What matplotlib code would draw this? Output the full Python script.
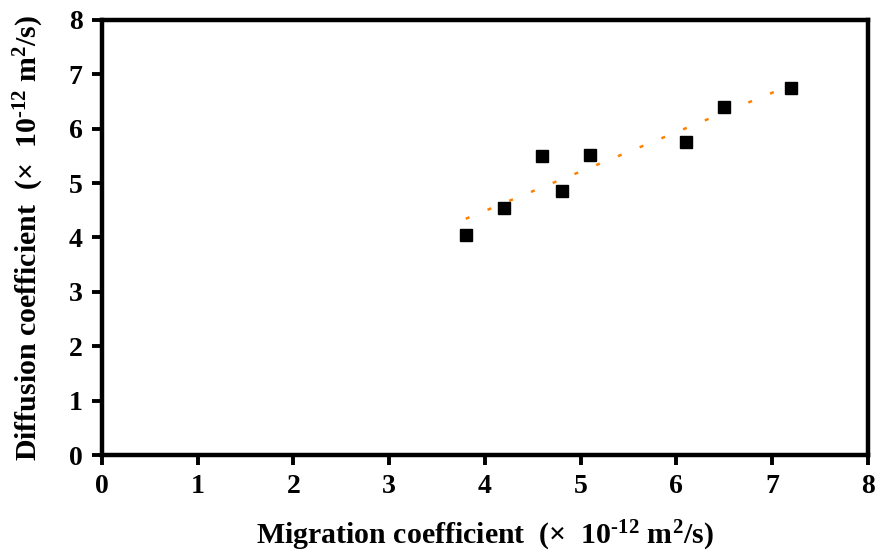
import numpy as np
import matplotlib
matplotlib.use("Agg")
import matplotlib.pyplot as plt

plt.rcParams['font.family'] = ['Liberation Serif', 'DejaVu Serif']
plt.rcParams['font.weight'] = 'bold'
plt.rcParams['mathtext.default'] = 'regular'

migration = [3.8, 4.2, 4.6, 4.8, 5.1, 6.1, 6.5, 7.2]
diffusion = [4.05, 4.55, 5.5, 4.85, 5.52, 5.75, 6.4, 6.75]
xticks = [0, 1, 2, 3, 4, 5, 6, 7, 8]
yticks = [0, 1, 2, 3, 4, 5, 6, 7, 8]

fig = plt.figure(figsize=(8.82, 5.54), dpi=100)
ax = fig.add_axes([0.1156, 0.1787, 0.8684, 0.7853])

slope, intercept = np.polyfit(migration, diffusion, 1)
xs = np.array([min(migration), max(migration)])
ax.plot(xs, slope * xs + intercept, color='#FF8000', linewidth=1.8,
        linestyle=(0, (1.6, 7.8)), zorder=2)
ax.plot(migration, diffusion, linestyle='none', marker='s', markersize=8.5,
        color='black', zorder=3)

ax.set_xlim(0, 8)
ax.set_ylim(0, 8)
ax.set_xticks(xticks)
ax.set_yticks(yticks)
ax.tick_params(direction='out', length=7, width=2.8, labelsize=20, pad=7)
for lab in ax.get_xticklabels() + ax.get_yticklabels():
    lab.set_fontweight('bold')
for s in ax.spines.values():
    s.set_linewidth(3.2)

label_tail = '  (\u00d7  10$^{\u201012}$ m$^{2}$/s)'
ax.set_xlabel('Migration coefficient' + label_tail, fontsize=21.5,
              fontweight='bold', labelpad=14)
ax.set_ylabel('Diffusion coefficient' + label_tail, fontsize=21.5,
              fontweight='bold', labelpad=16)

fig.savefig('out.png', dpi=100)
